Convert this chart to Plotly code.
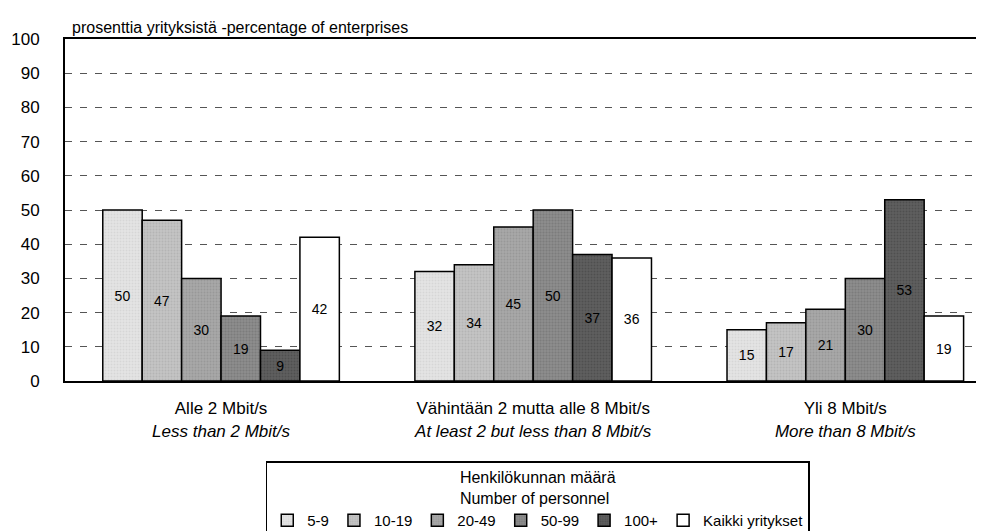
import plotly.graph_objects as go

categories = [
    "Alle 2 Mbit/s<br><i>Less than 2 Mbit/s</i>",
    "Vähintään 2 mutta alle 8 Mbit/s<br><i>At least 2 but less than 8 Mbit/s</i>",
    "Yli 8 Mbit/s<br><i>More than 8 Mbit/s</i>",
]
series_names = ["5-9", "10-19", "20-49", "50-99", "100+", "Kaikki yritykset"]
v_5_9 = [50, 32, 15]
v_10_19 = [47, 34, 17]
v_20_49 = [30, 45, 21]
v_50_99 = [19, 50, 30]
v_100 = [9, 37, 53]
v_all = [42, 36, 19]
values = [v_5_9, v_10_19, v_20_49, v_50_99, v_100, v_all]
colors = ["#e4e4e4", "#c4c4c4", "#a8a8a8", "#8c8c8c", "#5f5f5f", "#ffffff"]
dots = ["#c8c8c8", "#a4a4a4", "#888888", "#6c6c6c", "#404040", "#ffffff"]

fig = go.Figure()
for name, vals, col, dc in zip(series_names, values, colors, dots):
    pattern = dict(shape="." if col != "#ffffff" else "", fgcolor=dc, bgcolor=col,
                   size=3, solidity=0.35)
    fig.add_trace(go.Bar(
        x=categories, y=vals, name=name,
        marker=dict(color=col, line=dict(color="black", width=1.5), pattern=pattern),
        text=vals, textposition="inside", insidetextanchor="middle",
        textangle=0, textfont=dict(color="black", size=14),
    ))

fig.update_layout(
    width=984, height=531,
    barmode="group", bargap=0.242, bargroupgap=0,
    plot_bgcolor="white", paper_bgcolor="white",
    font=dict(family="Liberation Sans, Arial", size=17, color="black"),
    margin=dict(l=57, r=0, t=31, b=147),
    legend=dict(
        orientation="h", x=0.51, xanchor="center", y=-0.235, yanchor="top",
        bordercolor="black", borderwidth=1.5, bgcolor="white",
        font=dict(size=15), itemwidth=30, tracegroupgap=0,
        title=dict(text="Henkilökunnan määrä<br>Number of personnel", side="top center",
                   font=dict(size=16)),
    ),
    showlegend=True,
)
fig.update_yaxes(
    range=[0, 100], dtick=10, showgrid=True, gridcolor="#555555", griddash="7px,8px",
    gridwidth=1, showline=True, linecolor="black", linewidth=2, mirror=True,
    ticks="", ticklabelstandoff=20, tickfont=dict(size=17), zeroline=False,
    automargin=False,
)
fig.update_xaxes(range=[-0.5, 2.47], showline=True, linecolor="black", linewidth=2,
                 mirror=True, ticks="", ticklabelstandoff=11, tickfont=dict(size=17),
                 automargin=False)
fig.add_annotation(
    text="prosenttia yrityksistä -percentage of enterprises",
    xref="paper", yref="paper", x=0.005, y=1.0, xanchor="left", yanchor="bottom",
    yshift=1, showarrow=False, font=dict(size=16),
)

fig.write_html("out.html")
